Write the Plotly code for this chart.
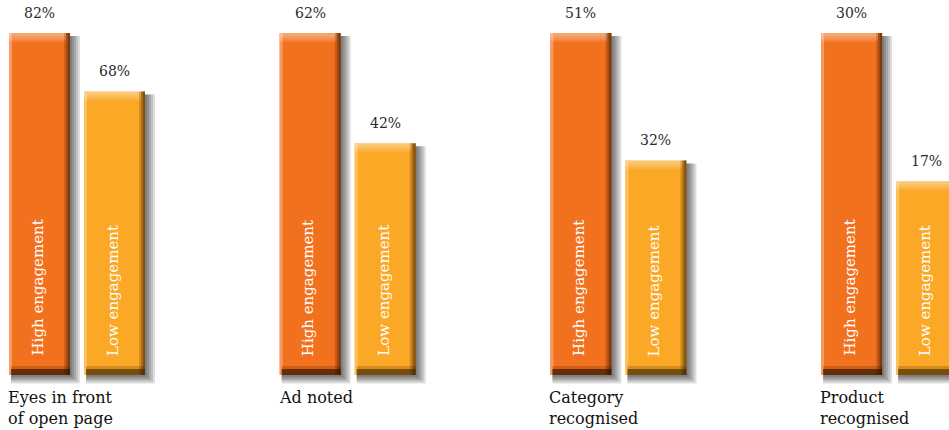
import plotly.graph_objects as go

# Survey results: share of respondents per measure, by engagement level
categories = ["Eyes in front<br>of open page", "Ad noted", "Category<br>recognised", "Product<br>recognised"]
high_engagement = [82, 62, 51, 30]
low_engagement = [68, 42, 32, 17]
series_names = ["High engagement", "Low engagement"]

# Styling
ORANGE = "#F2711F"
YELLOW = "#FAA825"
ORANGE_LIGHT = "#F59A62"
YELLOW_LIGHT = "#FCC05E"
LABEL_FONT = "DejaVu Serif"

W_PX, H_PX = 949, 430
UNIT_PX = 270.7          # pixels per category step on the x axis
BAR_PX = 61              # bar width in pixels
GAP_PX = 14              # gap between the two bars of a pair
FULL_PX = 342            # pixel height of the taller bar in every group
MARGIN_T, MARGIN_B = 8, 40
ZERO_UP_PX = 15          # distance from plot bottom to the bar baseline

px_x = 1.0 / UNIT_PX
bar_w = BAR_PX * px_x
half_pair = (BAR_PX / 2 + GAP_PX / 2) * px_x
plot_h = H_PX - MARGIN_T - MARGIN_B
x_start = -(half_pair + bar_w / 2) - 9 * px_x

fig = go.Figure()


def layer(axis, xs, tops, py, left, right, base_px, top_px, colors, from_top=False):
    """Add a rectangle layer to both bars of a group, sized in pixels around each bar."""
    bases, lengths = [], []
    for t in tops:
        b = (t + base_px * py) if from_top else base_px * py
        end = t + top_px * py
        bases.append(b)
        lengths.append(end - b)
    fig.add_trace(go.Bar(
        x=xs, y=lengths, base=bases,
        offset=-bar_w / 2 + left * px_x, width=(right - left) * px_x,
        marker=dict(color=colors, line=dict(width=0)),
        yaxis=axis, xaxis="x", hoverinfo="skip", showlegend=False,
    ))


def bottom_band(axis, xs, py, height_px, colors):
    """Dark bevel along the foot of each bar."""
    fig.add_trace(go.Bar(
        x=xs, y=[height_px * py] * 2, base=[0, 0],
        offset=-bar_w / 2 + 2 * px_x, width=(BAR_PX - 2) * px_x,
        marker=dict(color=colors, line=dict(width=0)),
        yaxis=axis, xaxis="x", hoverinfo="skip", showlegend=False,
    ))


for g, (cat, hi, lo) in enumerate(zip(categories, high_engagement, low_engagement)):
    axis = "y" if g == 0 else f"y{g + 1}"
    py = hi / FULL_PX
    xs = [g - half_pair, g + half_pair]
    tops = [hi, lo]
    mains = [ORANGE, YELLOW]
    lights = [ORANGE_LIGHT, YELLOW_LIGHT]

    # drop shadow (soft, built from stacked translucent layers)
    for d in [10, 8, 6, 4, 2]:
        layer(axis, xs, tops, py, 2, BAR_PX + d, -d * 0.85, -3, ["rgba(0,0,0,0.13)"] * 2)
    # bar body
    layer(axis, xs, tops, py, 0, BAR_PX, 0, 0, mains)
    # left highlight strip
    layer(axis, xs, tops, py, 0, 3, 0, 0, lights)
    # top highlight band
    for h in [9, 7, 5, 3]:
        layer(axis, xs, tops, py, 0, BAR_PX - 4, -h, 0, ["rgba(255,255,255,0.11)"] * 2, from_top=True)
    # right bevel
    for l, a in [(BAR_PX - 6, 0.18), (BAR_PX - 4, 0.25), (BAR_PX - 2, 0.3)]:
        layer(axis, xs, tops, py, l, BAR_PX, 0, 0, [f"rgba(40,15,0,{a})"] * 2)
    # bottom bevel
    bottom_band(axis, xs, py, 9, ["rgba(40,15,0,0.18)"] * 2)
    bottom_band(axis, xs, py, 6, ["rgba(45,18,0,0.65)", "rgba(60,35,0,0.6)"])

    # value labels above the bars
    for x, v in zip(xs, tops):
        fig.add_annotation(x=x, y=v, xref="x", yref=axis, text=f"{v}%", showarrow=False,
                           yanchor="bottom", yshift=10,
                           font=dict(family=LABEL_FONT, size=14, color="#2b2b2b"))
    # series names inside the bars
    for x, name in zip(xs, series_names):
        fig.add_annotation(x=x - 2 * px_x, y=0, xref="x", yref=axis, text=name, showarrow=False,
                           textangle=-90, yanchor="bottom", yshift=17,
                           font=dict(family=LABEL_FONT, size=15, color="white"))
    # category label below the pair
    fig.add_annotation(x=xs[0] - bar_w / 2 - 3 * px_x, y=0, xref="x", yref="paper", text=cat,
                       showarrow=False, xanchor="left", yanchor="top", yshift=4, align="left",
                       font=dict(family=LABEL_FONT, size=16, color="#111111"))

    yrange = [-ZERO_UP_PX * py, (plot_h - ZERO_UP_PX) * py]
    key = "yaxis" if g == 0 else f"yaxis{g + 1}"
    spec = dict(range=yrange, visible=False, fixedrange=True)
    if g > 0:
        spec["overlaying"] = "y"
    fig.layout[key] = spec

fig.update_layout(
    width=W_PX, height=H_PX,
    margin=dict(l=0, r=0, t=MARGIN_T, b=MARGIN_B),
    barmode="overlay",
    paper_bgcolor="white", plot_bgcolor="white",
    xaxis=dict(range=[x_start, x_start + W_PX * px_x], visible=False, fixedrange=True),
    showlegend=False,
)

fig.write_html("out.html")
